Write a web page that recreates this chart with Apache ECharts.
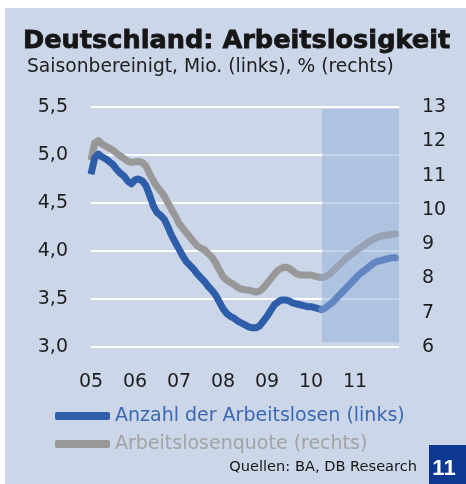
<!DOCTYPE html>
<html>
<head>
<meta charset="utf-8">
<script src="https://cdn.jsdelivr.net/npm/echarts@6/dist/echarts.min.js"></script>
<style>
  html, body { margin: 0; padding: 0; background: #fff; }
  #chart {
    width: 466px; height: 484px;
    background: linear-gradient(#cbd7e9, #cbd7e9) no-repeat 5px 8px / 461px 476px, #fff;
  }
</style>
</head>
<body>
<div id="chart"></div>
<script>
// Monatswerte ab Jan 2005
var startYear = 2005;
var yearLabels = ['05', '06', '07', '08', '09', '10', '11'];
var prognoseStart = 63; // Monat (Apr 2010), ab hier Prognose

// Anzahl der Arbeitslosen, Mio. (links), Jan 2005 .. Apr 2010
var anzahlIst = [
  4.80, 4.97, 5.01, 4.98, 4.96, 4.93, 4.90, 4.85, 4.81, 4.78, 4.73, 4.70,
  4.74, 4.75, 4.73, 4.68, 4.58, 4.47, 4.40, 4.37, 4.33, 4.25, 4.16, 4.09,
  4.02, 3.95, 3.89, 3.85, 3.81, 3.76, 3.72, 3.68, 3.63, 3.59, 3.54, 3.47,
  3.40, 3.35, 3.32, 3.30, 3.27, 3.25, 3.23, 3.21, 3.20, 3.20, 3.22, 3.27,
  3.32, 3.38, 3.44, 3.47, 3.49, 3.49, 3.48, 3.46, 3.45, 3.44, 3.43, 3.42,
  3.42, 3.41, 3.40, 3.39
];
// Prognose Apr 2010 .. Dez 2011
var anzahlProg = [
  3.39, 3.41, 3.44, 3.47, 3.51, 3.55, 3.59, 3.63, 3.67, 3.71, 3.75, 3.78,
  3.81, 3.84, 3.87, 3.89, 3.90, 3.91, 3.92, 3.93, 3.93
];

// Arbeitslosenquote, % (rechts)
var quoteIst = [
  11.45, 11.95, 12.02, 11.92, 11.86, 11.80, 11.74, 11.65, 11.57, 11.50, 11.42, 11.38,
  11.40, 11.41, 11.38, 11.27, 11.05, 10.85, 10.68, 10.55, 10.40, 10.20, 10.00, 9.82,
  9.60, 9.47, 9.33, 9.20, 9.07, 8.95, 8.88, 8.83, 8.72, 8.62, 8.45, 8.25,
  8.05, 7.95, 7.88, 7.82, 7.74, 7.69, 7.67, 7.66, 7.63, 7.60, 7.63, 7.72,
  7.85, 7.98, 8.12, 8.24, 8.30, 8.33, 8.30, 8.22, 8.14, 8.10, 8.10, 8.10,
  8.10, 8.07, 8.04, 8.02
];
var quoteProg = [
  8.02, 8.06, 8.12, 8.22, 8.32, 8.42, 8.52, 8.62, 8.70, 8.78, 8.86, 8.93,
  9.01, 9.08, 9.14, 9.19, 9.23, 9.25, 9.27, 9.29, 9.30
];

var leftTicks = { min: 3, max: 5.5, interval: 0.5 };
var rightTicks = { min: 6, max: 13, interval: 1 };

var blau = '#2e5ea9', blauProg = '#6286c2';
var grau = '#989898', grauProg = '#97a2b4';
var schrift = '"DejaVu Sans", sans-serif';

function pairs(arr, offset) {
  return arr.map(function (v, i) { return [startYear + (i + offset) / 12, v]; });
}

var chart = echarts.init(document.getElementById('chart'));

var option = {
  animation: false,
  textStyle: { fontFamily: schrift },
  grid: { left: 91, right: 67, top: 107, bottom: 137 },
  xAxis: {
    type: 'value',
    min: startYear, max: startYear + yearLabels.length, interval: 1,
    axisLine: { show: false }, axisTick: { show: false }, splitLine: { show: false },
    axisLabel: {
      margin: 26, fontSize: 19, color: '#1e1e1e',
      formatter: function (v) { return yearLabels[v - startYear] || ''; }
    }
  },
  yAxis: [{
    type: 'value', min: leftTicks.min, max: leftTicks.max, interval: leftTicks.interval,
    axisLine: { show: false }, axisTick: { show: false },
    axisLabel: {
      margin: 23, fontSize: 19, color: '#1e1e1e',
      formatter: function (v) { return v.toFixed(1).replace('.', ','); }
    },
    splitLine: { lineStyle: { color: '#fff', width: 2 } }
  }, {
    type: 'value', min: rightTicks.min, max: rightTicks.max, interval: rightTicks.interval,
    axisLine: { show: false }, axisTick: { show: false },
    axisLabel: { margin: 23, fontSize: 19, color: '#1e1e1e' },
    splitLine: { show: false }
  }],
  legend: {
    orient: 'vertical', left: 55, top: 406, padding: 0,
    itemWidth: 55, itemHeight: 8, itemGap: 8, icon: 'roundRect',
    textStyle: { fontSize: 19, lineHeight: 20 },
    data: [
      { name: 'Anzahl der Arbeitslosen (links)', textStyle: { color: '#3a68b3' } },
      { name: 'Arbeitslosenquote (rechts)', textStyle: { color: '#a2a2a2' } }
    ]
  },
  series: [{
    name: 'Anzahl der Arbeitslosen (links)', type: 'line', yAxisIndex: 0,
    data: pairs(anzahlIst, 0), color: blau, showSymbol: false,
    lineStyle: { width: 7, cap: 'butt', join: 'round' }, z: 4
  }, {
    name: 'Anzahl Prognose', type: 'line', yAxisIndex: 0,
    data: pairs(anzahlProg, prognoseStart), color: blauProg, showSymbol: false, smooth: true,
    lineStyle: { width: 7, cap: 'round', join: 'round' }, z: 4,
    // Prognosezeitraum schattiert
    markArea: {
      silent: true,
      itemStyle: { color: 'rgba(150,178,215,0.55)' },
      data: [[
        { xAxis: startYear + prognoseStart / 12, yAxis: 5.48 },
        { xAxis: startYear + yearLabels.length, yAxis: 3.05 }
      ]]
    }
  }, {
    name: 'Arbeitslosenquote (rechts)', type: 'line', yAxisIndex: 1,
    data: pairs(quoteIst, 0), color: grau, showSymbol: false,
    lineStyle: { width: 7, cap: 'butt', join: 'round' }, z: 3
  }, {
    name: 'Quote Prognose', type: 'line', yAxisIndex: 1,
    data: pairs(quoteProg, prognoseStart), color: grauProg, showSymbol: false, smooth: true,
    lineStyle: { width: 7, cap: 'round', join: 'round' }, z: 3
  }],
  graphic: [
    { type: 'text', x: 23, y: 41,
      style: { text: 'Deutschland: Arbeitslosigkeit', font: 'bold 25.6px ' + schrift,
               verticalAlign: 'middle', fill: '#161616', stroke: '#161616', lineWidth: 0.8 } },
    { type: 'text', x: 27, y: 67,
      style: { text: 'Saisonbereinigt, Mio. (links), % (rechts)', font: '18.7px ' + schrift,
               verticalAlign: 'middle', fill: '#202020' } },
    { type: 'text', x: 417, y: 467,
      style: { text: 'Quellen: BA, DB Research', font: '14.6px ' + schrift,
               align: 'right', verticalAlign: 'middle', fill: '#161616' } },
    { type: 'rect', left: 429, top: 445, shape: { width: 40, height: 40 }, style: { fill: '#0c3890' } },
    { type: 'text', x: 444, y: 469,
      style: { text: '11', font: 'bold 22px "Liberation Sans", Arial, sans-serif',
               align: 'center', verticalAlign: 'middle', fill: '#fff' } }
  ]
};

chart.setOption(option);
</script>
</body>
</html>
